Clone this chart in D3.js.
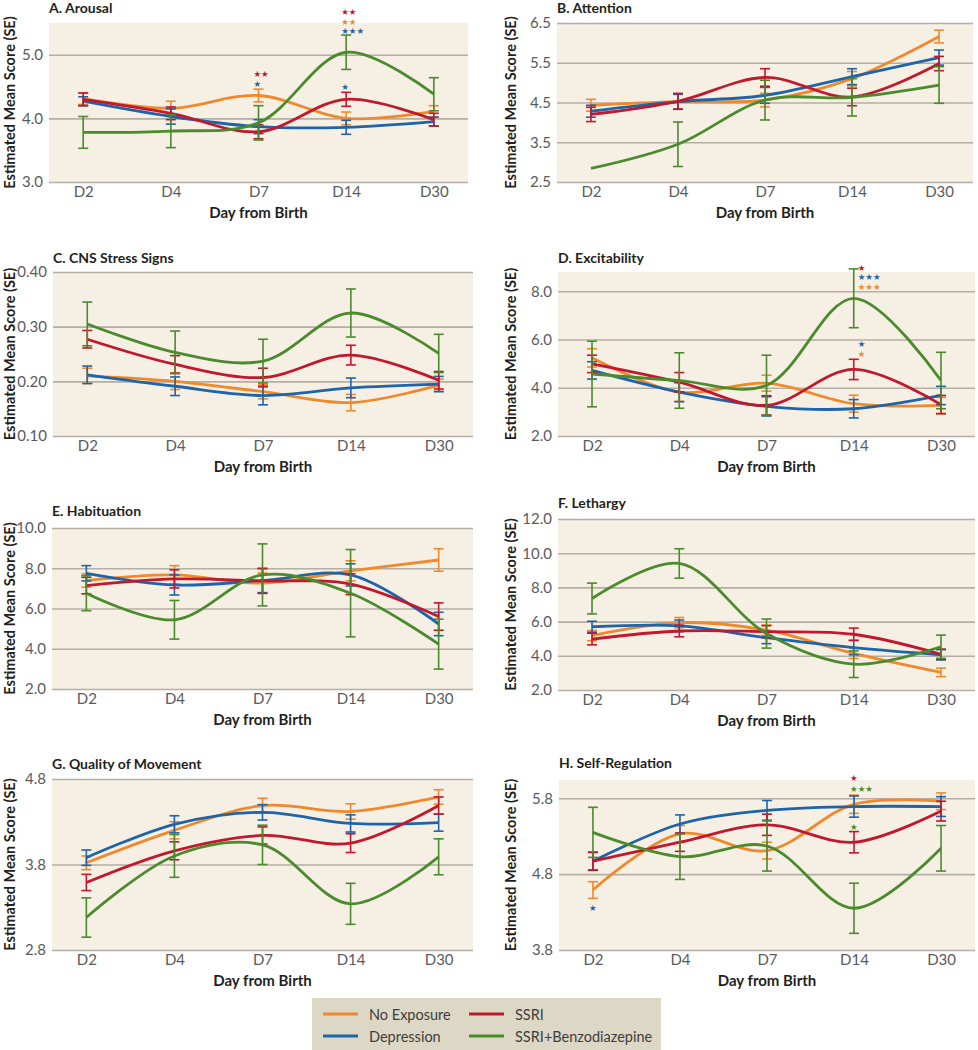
<!DOCTYPE html>
<html><head><meta charset="utf-8">
<script src="https://cdn.jsdelivr.net/npm/d3@7"></script>
<style>body{margin:0;background:#fff}svg{display:block}</style>
</head><body>
<svg id="c" width="978" height="1050"></svg>
<script>
// ---------- DATA ----------
const days = ["D2", "D4", "D7", "D14", "D30"];
const seriesNames = ["No Exposure", "Depression", "SSRI", "SSRI+Benzodiazepine"];
const panelTitles = ["A. Arousal", "B. Attention", "C. CNS Stress Signs", "D. Excitability",
  "E. Habituation", "F. Lethargy", "G. Quality of Movement", "H. Self-Regulation"];
const yDomains = [[3.0, 5.5], [2.5, 6.5], [0.10, 0.40], [2.0, 8.8], [2.0, 10.0], [2.0, 12.0], [2.8, 4.8], [3.8, 6.04]];
const yTickValues = [[3.0, 4.0, 5.0], [2.5, 3.5, 4.5, 5.5, 6.5], [0.10, 0.20, 0.30, 0.40], [2, 4, 6, 8],
  [2, 4, 6, 8, 10], [2, 4, 6, 8, 10, 12], [2.8, 3.8, 4.8], [3.8, 4.8, 5.8]];
const yTickFormats = [".1f", ".1f", ".2f", ".1f", ".1f", ".1f", ".1f", ".1f"];
const xLabel = "Day from Birth";
const yLabel = "Estimated Mean Score (SE)";

// means: rows = No Exposure, Depression, SSRI, SSRI+Benzodiazepine
const arousalMean = [[4.31, 4.16, 4.36, 4.00, 4.11], [4.27, 4.03, 3.87, 3.86, 3.95], [4.30, 4.08, 3.79, 4.30, 3.98], [3.78, 3.80, 3.93, 5.04, 4.38]];
const arousalSE = [[0.09, 0.11, 0.10, 0.10, 0.09], [0.07, 0.12, 0.11, 0.11, 0.07], [0.10, 0.10, 0.11, 0.11, 0.10], [0.25, 0.26, 0.27, 0.27, 0.26]];
const attentionMean = [[4.43, 4.52, 4.56, 5.10, 6.16], [4.28, 4.52, 4.68, 5.15, 5.63], [4.20, 4.53, 5.13, 4.64, 5.48], [2.84, 3.45, 4.56, 4.63, 4.94]];
const attentionSE = [[0.15, 0.18, 0.17, 0.18, 0.16], [0.15, 0.19, 0.20, 0.20, 0.19], [0.18, 0.20, 0.22, 0.22, 0.18], [0, 0.56, 0.50, 0.47, 0.46]];
const cnsMean = [[0.210, 0.200, 0.181, 0.161, 0.193], [0.212, 0.191, 0.174, 0.188, 0.195], [0.277, 0.231, 0.207, 0.248, 0.202], [0.305, 0.253, 0.237, 0.325, 0.251]];
const cnsSE = [[0.014, 0.015, 0.013, 0.015, 0.011], [0.016, 0.017, 0.017, 0.018, 0.014], [0.016, 0.016, 0.017, 0.018, 0.016], [0.040, 0.039, 0.040, 0.044, 0.035]];
const excitMean = [[5.24, 3.82, 4.19, 3.34, 3.27], [4.72, 3.82, 3.23, 3.13, 3.68], [4.99, 4.23, 3.27, 4.76, 3.30], [4.57, 4.30, 4.10, 7.71, 4.30]];
const excitSE = [[0.38, 0.38, 0.33, 0.35, 0.33], [0.36, 0.40, 0.40, 0.38, 0.38], [0.36, 0.40, 0.40, 0.42, 0.38], [1.36, 1.15, 1.25, 1.22, 1.17]];
const habitMean = [[7.39, 7.67, 7.26, 7.87, 8.41], [7.75, 7.17, 7.39, 7.67, 5.23], [7.14, 7.47, 7.37, 7.21, 5.60], [6.76, 5.44, 7.67, 6.76, 4.23]];
const habitSE = [[0.33, 0.46, 0.50, 0.50, 0.56], [0.38, 0.50, 0.60, 0.55, 0.58], [0.41, 0.45, 0.62, 0.52, 0.68], [0.87, 0.96, 1.54, 2.17, 1.24]];
const lethMean = [[5.18, 5.94, 5.50, 4.14, 3.03], [5.70, 5.75, 5.06, 4.48, 4.06], [4.98, 5.45, 5.41, 5.26, 4.09], [7.35, 9.40, 5.30, 3.51, 4.53]];
const lethSE = [[0.30, 0.30, 0.30, 0.30, 0.25], [0.32, 0.34, 0.35, 0.42, 0.30], [0.34, 0.34, 0.35, 0.36, 0.30], [0.90, 0.86, 0.85, 0.78, 0.68]];
const moveMean = [[3.82, 4.20, 4.49, 4.42, 4.59], [3.88, 4.27, 4.41, 4.28, 4.29], [3.59, 3.96, 4.14, 4.05, 4.49], [3.18, 3.90, 4.03, 3.34, 3.89]];
const moveSE = [[0.08, 0.10, 0.085, 0.09, 0.085], [0.09, 0.10, 0.09, 0.10, 0.10], [0.095, 0.105, 0.10, 0.11, 0.10], [0.23, 0.25, 0.23, 0.24, 0.21]];
const selfMean = [[4.59, 5.33, 5.11, 5.72, 5.76], [4.97, 5.46, 5.64, 5.69, 5.69], [4.97, 5.22, 5.45, 5.22, 5.63], [5.35, 5.03, 5.17, 4.35, 5.14]];
const selfSE = [[0.11, 0.11, 0.11, 0.12, 0.11], [0.115, 0.12, 0.13, 0.14, 0.13], [0.12, 0.12, 0.14, 0.14, 0.13], [0.33, 0.30, 0.33, 0.33, 0.30]];

// significance stars: [panel, day, series, count, value level]
const starNotes = [
  [0, "D7", 2, 2, 4.70], [0, "D7", 1, 1, 4.54],
  [0, "D14", 2, 2, 5.68], [0, "D14", 0, 2, 5.52], [0, "D14", 1, 3, 5.38], [0, "D14", 1, 1, 4.49],
  [3, "D14", 2, 1, 8.95], [3, "D14", 1, 3, 8.58], [3, "D14", 0, 3, 8.16], [3, "D14", 1, 1, 5.81], [3, "D14", 0, 1, 5.39],
  [7, "D14", 2, 1, 6.06], [7, "D14", 3, 3, 5.92], [7, "D14", 3, 1, 5.42], [7, "D2", 1, 1, 4.35]
];

// ---------- STYLE / LAYOUT ----------
const seriesColors = ["#f0892b", "#1f63a8", "#c1182e", "#4b8a2d"];
const panelMeans = [arousalMean, attentionMean, cnsMean, excitMean, habitMean, lethMean, moveMean, selfMean];
const panelSEs = [arousalSE, attentionSE, cnsSE, excitSE, habitSE, lethSE, moveSE, selfSE];
const layout = [
  {x: 49, y: 23, w: 419, h: 159, ty: 13, yl: 15},
  {x: 557, y: 23, w: 416, h: 159, ty: 13, yl: 516},
  {x: 53, y: 272, w: 420, h: 164, ty: 263, yl: 15},
  {x: 558, y: 272, w: 417, h: 164, ty: 263, yl: 516},
  {x: 52, y: 528, w: 421, h: 161, ty: 516, yl: 15},
  {x: 558, y: 519, w: 417, h: 171, ty: 508, yl: 516},
  {x: 52, y: 779, w: 421, h: 171, ty: 769, yl: 15},
  {x: 559, y: 780, w: 416, h: 170, ty: 768, yl: 516}
];
const starDx = [-5, -5, -5, 4, -5, -5, -5, -4];
const FONT = "Lato, 'Open Sans', sans-serif";

const svg = d3.select("#c");

panelTitles.forEach((title, p) => {
  const L = layout[p];
  const g = svg.append("g").attr("transform", `translate(${L.x},${L.y})`);
  const x = d3.scalePoint().domain(days).range([0, L.w]).padding(0.39);
  const y = d3.scaleLinear().domain(yDomains[p]).range([L.h, 0]);

  g.append("rect").attr("width", L.w).attr("height", L.h).attr("fill", "#f6f0e4");

  const yAxis = d3.axisLeft(y).tickValues(yTickValues[p]).tickFormat(d3.format(yTickFormats[p]))
    .tickSize(-L.w).tickPadding(6);
  const ya = g.append("g").call(yAxis);
  ya.select(".domain").remove();
  ya.selectAll("line").attr("stroke", "#b3aea6").attr("stroke-width", 1.6);
  ya.selectAll("text").attr("fill", "#5a5a5c").style("font-family", FONT).style("font-size", "15px");

  const xAxis = d3.axisBottom(x).tickSize(0).tickPadding(4);
  const xa = g.append("g").attr("transform", `translate(0,${L.h})`).call(xAxis);
  xa.select(".domain").remove();
  xa.selectAll("text").attr("fill", "#5a5a5c").style("font-family", FONT).style("font-size", "15px");

  svg.append("text").attr("x", L.x).attr("y", L.ty).text(title)
    .style("font-family", FONT).style("font-weight", "bold").style("font-size", "14px").attr("fill", "#231f20");
  svg.append("text").attr("x", L.x + L.w / 2).attr("y", L.y + L.h + 36).attr("text-anchor", "middle").text(xLabel)
    .style("font-family", FONT).style("font-weight", "bold").style("font-size", "15px").attr("fill", "#231f20");
  svg.append("text").attr("transform", `translate(${L.yl},${L.y + L.h / 2}) rotate(-90)`).attr("text-anchor", "middle").text(yLabel)
    .style("font-family", FONT).style("font-weight", "bold").style("font-size", "14.5px").attr("fill", "#231f20");

  const line = d3.line().x((d, i) => x(days[i])).y(d => y(d)).curve(d3.curveCatmullRom.alpha(0.5));
  const means = panelMeans[p], ses = panelSEs[p];
  means.forEach((vals, s) => {
    const col = seriesColors[s];
    const eb = g.append("g").attr("stroke", col).attr("stroke-width", 1.6).attr("fill", "none");
    vals.forEach((v, i) => {
      const se = ses[s][i];
      if (!se) return;
      const cx = x(days[i]), y1 = y(v + se), y2 = y(v - se);
      eb.append("line").attr("x1", cx).attr("x2", cx).attr("y1", y1).attr("y2", y2);
      eb.append("line").attr("x1", cx - 5).attr("x2", cx + 5).attr("y1", y1).attr("y2", y1);
      eb.append("line").attr("x1", cx - 5).attr("x2", cx + 5).attr("y1", y2).attr("y2", y2);
    });
    g.append("path").datum(vals).attr("d", line).attr("fill", "none").attr("stroke", col).attr("stroke-width", 2.8);
  });

  starNotes.filter(n => n[0] === p).forEach(n => {
    g.append("text").attr("x", x(n[1]) + starDx[p]).attr("y", y(n[4])).attr("dominant-baseline", "central")
      .text("★".repeat(n[3])).attr("fill", seriesColors[n[2]])
      .style("font-family", "'DejaVu Sans', sans-serif").style("font-size", "8.5px");
  });
});

// legend
const lg = svg.append("g");
lg.append("rect").attr("x", 312).attr("y", 998).attr("width", 349).attr("height", 60).attr("fill", "#ddd8c5");
const legPos = [[323, 1014], [323, 1036], [469, 1014], [469, 1036]];
seriesNames.forEach((name, s) => {
  const [lx, ly] = legPos[s];
  lg.append("line").attr("x1", lx).attr("x2", lx + 35).attr("y1", ly).attr("y2", ly)
    .attr("stroke", seriesColors[s]).attr("stroke-width", 2.8);
  lg.append("text").attr("x", lx + 46).attr("y", ly).attr("dominant-baseline", "central").text(name)
    .style("font-family", FONT).style("font-size", "14.5px").attr("fill", "#3d3d3d");
});
</script>
</body></html>
